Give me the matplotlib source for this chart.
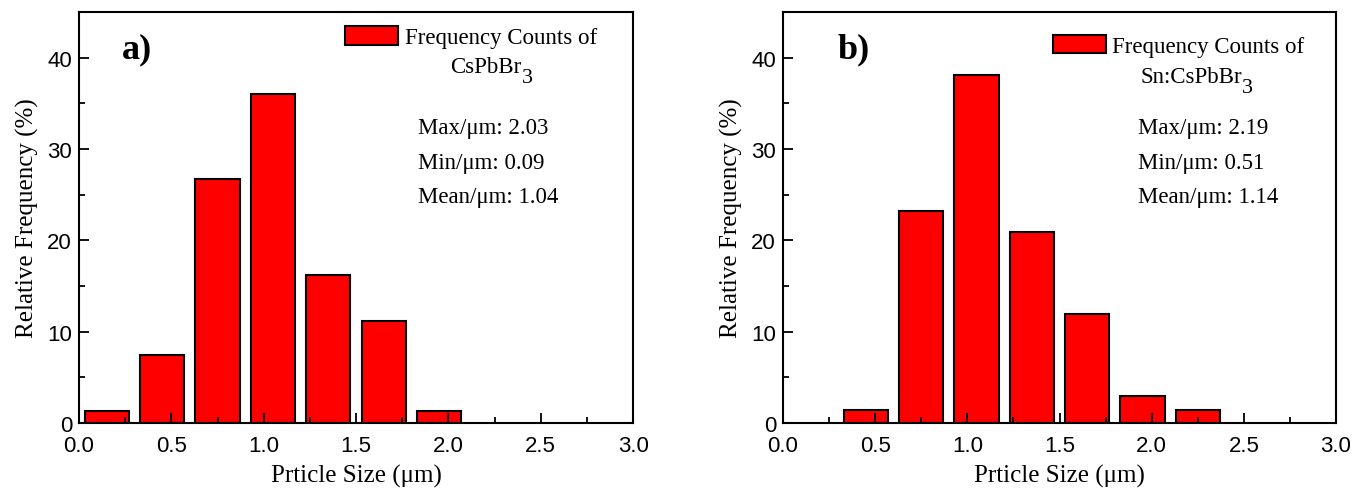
import matplotlib
matplotlib.use("Agg")
import matplotlib.pyplot as plt
from matplotlib.ticker import MultipleLocator, FormatStrFormatter

SERIF = "Liberation Serif"
SANS = "Liberation Sans"

# bin centres (um) and relative frequency (%)
bins_a = [0.15, 0.45, 0.75, 1.05, 1.35, 1.65, 1.95]
freq_a = [1.27, 7.5, 26.7, 36.0, 16.2, 11.2, 1.27]

bins_b = [0.45, 0.75, 1.05, 1.35, 1.65, 1.95, 2.25]
freq_b = [1.46, 23.2, 38.1, 20.9, 11.9, 3.0, 1.46]

sample_a = "CsPbBr"
sample_b = "Sn:CsPbBr"
stats_a = ["Max/\u03bcm: 2.03", "Min/\u03bcm: 0.09", "Mean/\u03bcm: 1.04"]
stats_b = ["Max/\u03bcm: 2.19", "Min/\u03bcm: 0.51", "Mean/\u03bcm: 1.14"]

fig = plt.figure(figsize=(13.55, 4.89), dpi=100)
ax_a = fig.add_axes([0.0583, 0.1329, 0.4089, 0.8405])
ax_b = fig.add_axes([0.5779, 0.1329, 0.4081, 0.8405])


def draw_panel(ax, bins, freq, sample, stats, tag, tag_x, stats_x,
               leg_x, leg_y, sample_x, sample_y):
    ax.bar(bins, freq, width=0.24, color="#ff0000", edgecolor="black",
           linewidth=1.5, label="Frequency Counts of")
    ax.set_xlim(0, 3.0)
    ax.set_ylim(0, 45)
    ax.xaxis.set_major_locator(MultipleLocator(0.5))
    ax.xaxis.set_minor_locator(MultipleLocator(0.25))
    ax.yaxis.set_major_locator(MultipleLocator(10))
    ax.yaxis.set_minor_locator(MultipleLocator(5))
    ax.xaxis.set_major_formatter(FormatStrFormatter("%.1f"))
    ax.tick_params(which="both", direction="in", top=False, right=False,
                   width=1.3)
    ax.tick_params(which="major", length=7, labelsize=16)
    ax.tick_params(axis="x", which="major", pad=8.5)
    ax.tick_params(axis="y", which="major", pad=5)
    ax.tick_params(which="minor", length=4)
    for lab in ax.get_xticklabels() + ax.get_yticklabels():
        lab.set_fontfamily(SANS)
    for sp in ax.spines.values():
        sp.set_linewidth(1.5)

    ax.set_xlabel("Prticle Size (\u03bcm)", fontsize=18, family=SERIF, labelpad=6)
    ax.set_ylabel("Relative Frequency (%)", fontsize=18, family=SERIF, labelpad=6)

    ax.legend(loc="upper left", bbox_to_anchor=(leg_x, leg_y),
              frameon=False, borderpad=0, borderaxespad=0,
              handlelength=2.3, handleheight=0.85, handletextpad=0.3,
              prop={"family": SERIF, "size": 16.5})

    # second line of the legend label, with a full-size lowered subscript
    t = ax.text(sample_x, sample_y, sample, transform=ax.transAxes,
                fontsize=16.5, family=SERIF, va="baseline", ha="left")
    ax.annotate("3", xy=(1, 0), xycoords=t, xytext=(0.3, -3.5),
                textcoords="offset points", fontsize=16, family=SERIF,
                va="baseline", ha="left")

    ax.text(tag_x, 0.910, tag, transform=ax.transAxes, fontsize=26,
            fontweight="bold", family=SERIF, va="center", ha="left")

    ys = [0.718, 0.634, 0.551]
    for s, y in zip(stats, ys):
        ax.text(stats_x, y, s, transform=ax.transAxes, fontsize=16.5,
                family=SERIF, va="center", ha="left")


draw_panel(ax_a, bins_a, freq_a, sample_a, stats_a, "a)", 0.078, 0.612,
           0.480, 0.965, 0.670, 0.854)
draw_panel(ax_b, bins_b, freq_b, sample_b, stats_b, "b)", 0.098, 0.642,
           0.488, 0.944, 0.6456, 0.830)

fig.savefig("out.png", dpi=100)
